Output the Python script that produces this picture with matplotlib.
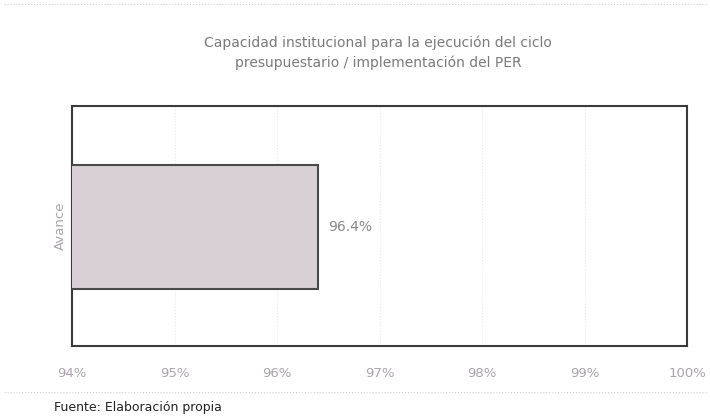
import numpy as np
import matplotlib
matplotlib.use("Agg")
import matplotlib.pyplot as plt
from matplotlib.lines import Line2D

categories = ["Avance"]
values = [96.4]
xticks = [94, 95, 96, 97, 98, 99, 100]
title = "Capacidad institucional para la ejecución del ciclo\npresupuestario / implementación del PER"
source = "Fuente: Elaboración propia"

plt.rcParams['font.family'] = ['DejaVu Sans']

fig = plt.figure(figsize=(7.1, 4.16), dpi=100)
ax = fig.add_axes([72/710, 1-346/416, 615/710, 240/416])

ax.barh(np.arange(len(categories)), values, left=0, height=1.033,
        color="#d9d0d6", edgecolor="#4a4a4a", linewidth=1.5, zorder=3)
for i, v in enumerate(values):
    ax.text(v + 0.1, i, f"{v}%", va="center", ha="left",
            fontsize=10, color="#888888", zorder=4)

ax.set_xlim(94, 100)
ax.set_ylim(-0.992, 1.008)
ax.set_xticks(xticks)
ax.set_xticklabels([f"{t}%" for t in xticks], fontsize=9.5, color="#aaa3ab")
ax.set_yticks([])
ax.set_ylabel(categories[0], fontsize=9.5, color="#aaa3ab", labelpad=4)
ax.tick_params(axis="x", length=0, pad=15)
ax.grid(axis="x", color="#e8e8e8", linestyle=":", linewidth=0.8, zorder=0)
for s in ax.spines.values():
    s.set_color("#3a3a3a")
    s.set_linewidth(1.5)

fig.text(378/710, 1-53/416, title, ha="center", va="center",
         fontsize=10, color="#7a7a7a", linespacing=1.45)
fig.text(54/710, 1-407/416, source, ha="left", va="center",
         fontsize=9, color="#222222")

for yy in (4, 392):
    fig.add_artist(Line2D([0.005, 0.995], [1-yy/416, 1-yy/416],
                          transform=fig.transFigure, color="#cfcfcf",
                          linestyle=":", linewidth=0.8))

fig.savefig("out.png", dpi=100)
